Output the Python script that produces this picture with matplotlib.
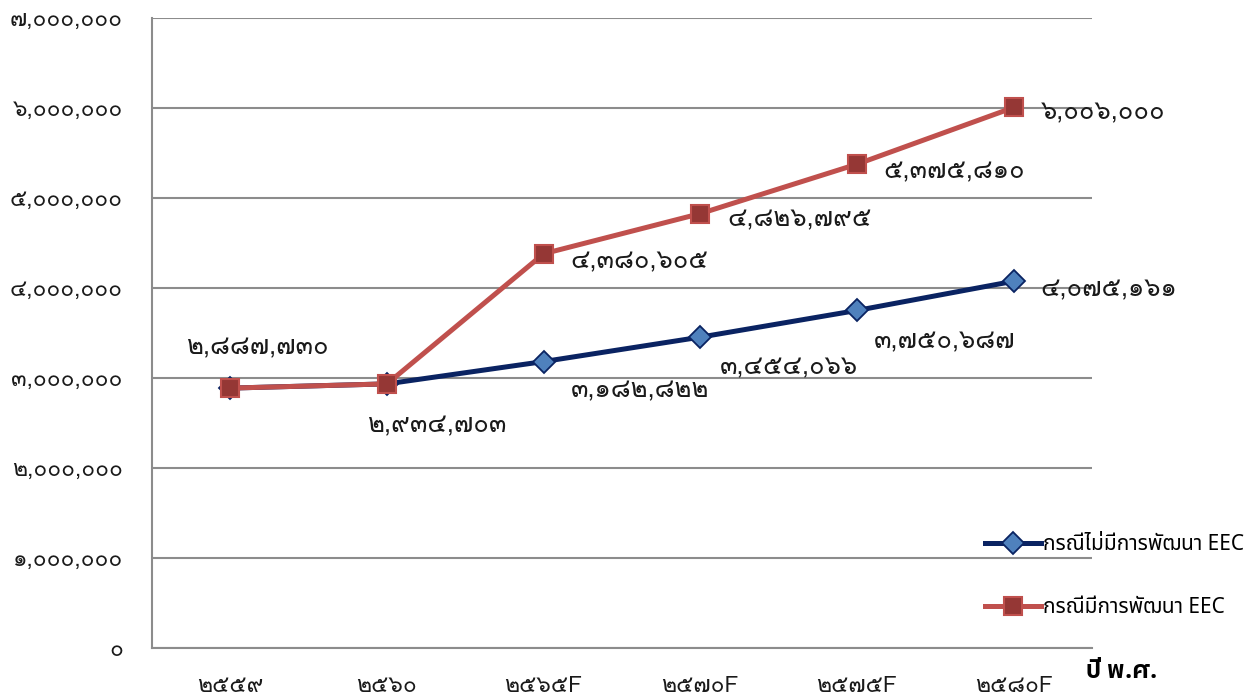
import matplotlib
matplotlib.use("Agg")
import matplotlib.pyplot as plt
from matplotlib.ticker import FuncFormatter, MultipleLocator

years = ["๒๕๕๙", "๒๕๖๐", "๒๕๖๕F", "๒๕๗๐F", "๒๕๗๕F", "๒๕๘๐F"]
no_eec = [2887730, 2934703, 3182822, 3454066, 3750687, 4075161]
with_eec = [2887730, 2934703, 4380605, 4826795, 5375810, 6006000]
no_eec_name = "กรณีไม่มีการพัฒนา EEC"
with_eec_name = "กรณีมีการพัฒนา EEC"

THAI_DIGITS = str.maketrans("0123456789", "๐๑๒๓๔๕๖๗๘๙")


def thai_num(v):
    return f"{int(v):,}".translate(THAI_DIGITS)


num_font = ["Loma", "Noto Sans Thai Looped", "DejaVu Sans"]
txt_font = ["Noto Sans Thai", "DejaVu Sans"]
bold_font = ["IBM Plex Sans Thai", "Loma", "DejaVu Sans"]
grey = "#8c8c8c"

fig = plt.figure(figsize=(12.58, 6.95), dpi=100)
ax = fig.add_axes([152 / 1258, 1 - 648 / 695, 940 / 1258, 630 / 695])

x = range(len(years))
ax.plot(x, no_eec, color="#0a2362", lw=3.6, marker="D", ms=11.5,
        mfc="#4f81bd", mec="#0a2362", mew=1.3, label=no_eec_name, zorder=3)
ax.plot(x, with_eec, color="#c0504d", lw=3.6, marker="s", ms=12.5,
        mfc="#953735", mec="#c0504d", mew=1.5, label=with_eec_name, zorder=4)

# label offsets in pixels (left edge of text, vertical centre)
blue_off = [None, None, (27, -29), (20, -30), (17, -31), (27, -8)]
red_off = [(-44, 41), (-20, -41), (27, -8), (27, -6), (26, -7), (27, -5)]
for vals, offs in ((no_eec, blue_off), (with_eec, red_off)):
    for i, (v, off) in enumerate(zip(vals, offs)):
        if off is None:
            continue
        ax.annotate(thai_num(v), (i, v), xytext=off, textcoords="offset pixels",
                    ha="left", va="center", fontsize=18.5, family=num_font,
                    color="#1a1a1a", zorder=5)

ax.set_xlim(-0.5, len(years) - 0.5)
ax.set_ylim(0, 7000000)
ax.yaxis.set_major_locator(MultipleLocator(1000000))
ax.yaxis.set_major_formatter(FuncFormatter(lambda v, p: thai_num(v)))
ax.set_xticks(list(x))
ax.set_xticklabels(years)
ax.tick_params(axis="both", length=0, labelsize=16.5, colors="#1a1a1a")
ax.tick_params(axis="x", pad=20)
ax.tick_params(axis="y", pad=21)
for lab in ax.get_xticklabels() + ax.get_yticklabels():
    lab.set_family(num_font)

ax.grid(axis="y", color=grey, lw=1.5)
ax.set_axisbelow(True)
for side in ("top", "right"):
    ax.spines[side].set_visible(False)
for side in ("left", "bottom"):
    ax.spines[side].set_color(grey)
    ax.spines[side].set_linewidth(1.5)

fig.text(1086 / 1258, 1 - 672 / 695, "ปี พ.ศ.", fontsize=17.5, fontweight="bold",
         family=bold_font, ha="left", va="center")

leg = ax.legend(loc="upper left", bbox_to_anchor=(977 / 1258, 1 - 526 / 695),
                bbox_transform=fig.transFigure, frameon=False,
                prop={"family": txt_font, "size": 15}, handlelength=2.65,
                handletextpad=0.1, labelspacing=2.0, borderaxespad=0)

fig.savefig("out.png", dpi=100)
